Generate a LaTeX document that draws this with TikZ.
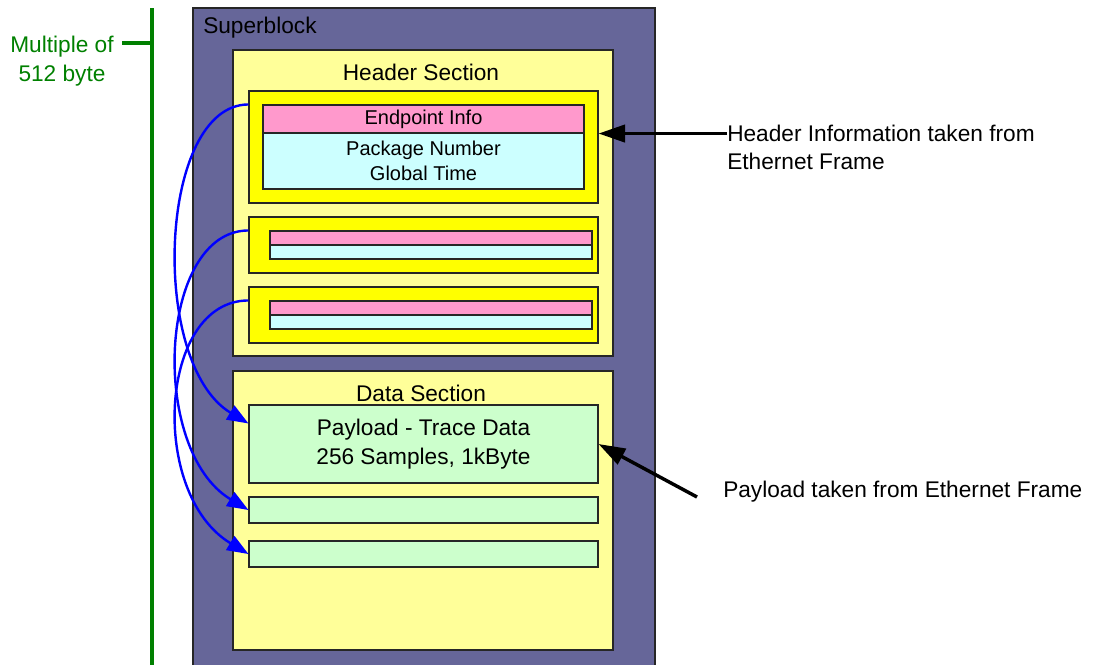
\documentclass[tikz,border=0pt]{standalone}
\usepackage{fontspec}
\setmainfont{Liberation Sans}
\usetikzlibrary{arrows.meta,calc,fit,positioning}

\definecolor{sbviolet}{RGB}{102,102,153}
\definecolor{secyellow}{RGB}{255,255,153}
\definecolor{hdryellow}{RGB}{255,255,0}
\definecolor{eppink}{RGB}{255,153,204}
\definecolor{pkcyan}{RGB}{204,255,255}
\definecolor{paygreen}{RGB}{204,255,204}
\definecolor{sizegreen}{RGB}{0,128,0}

\newcommand{\bigfont}{\fontsize{17}{21.5}\selectfont}
\newcommand{\smallfont}{\fontsize{15}{18.75}\selectfont}

\tikzset{
  box/.style={draw=black!85, line width=0.8pt, inner sep=0pt},
  superblock/.style={box, fill=sbviolet},
  section/.style={box, fill=secyellow},
  hdrbox/.style={box, fill=hdryellow},
  epbar/.style={box, fill=eppink},
  pkbar/.style={box, fill=pkcyan},
  paybox/.style={box, fill=paygreen},
  lbl/.style={inner sep=0pt, font=\bigfont},
  small/.style={inner sep=0pt, font=\smallfont, align=center},
  marker/.style={sizegreen, line width=3pt},
  link/.style={draw=blue, line width=1.8pt, -{Triangle[length=16pt,width=12pt]}},
  pointer/.style={line width=2.6pt, -{Triangle[length=20pt,width=13pt]}},
}

\begin{document}
\begin{tikzpicture}[x=0.75pt, y=-0.75pt]
  \useasboundingbox (0,0) rectangle (1099,664);
  \clip (0,0) rectangle (1099,664);

  % size marker on the left
  \draw[marker] (152,8) -- (152,680);
  \coordinate (tick) at (152,43);
  \coordinate (tickend) at (122,43);
  \draw[marker] (tickend) -- (tick);
  \node[lbl, text=sizegreen, align=center] (mult) at (62,61) {Multiple of\\512 byte};

  % superblock
  \node[superblock, fit={(193,8) (655,690)}] (sb) {};
  \node[lbl, anchor=west] (sblbl) at (203,28) {Superblock};

  % header section
  \node[section, fit={(233,50) (613,356)}] (hsec) {};
  \node[lbl] (hseclbl) at (421,72) {Header Section};
  \node[hdrbox, fit={(249,91) (598,203)}] (hdr1) {};
  \node[epbar, fit={(263,105) (584,133)}] (ep1) {};
  \node[pkbar, fit={(263,133) (584,189)}] (pk1) {};
  \node[small] (eptxt) at (ep1.center) {Endpoint Info};
  \node[small] (pktxt) at (pk1.center) {Package Number\\Global Time};
  \foreach \i/\y in {2/217,3/287} {
    \node[hdrbox, fit={(249,\y) (598,\y+56)}] (hdr\i) {};
    \node[epbar, fit={(270,\y+14) (592,\y+28)}] (ep\i) {};
    \node[pkbar, fit={(270,\y+28) (592,\y+42)}] (pk\i) {};
  }

  % data section
  \node[section, fit={(233,371) (613,650)}] (dsec) {};
  \node[lbl] (dseclbl) at (421,393) {Data Section};
  \node[paybox, fit={(249,405) (598,483)}] (pay1) {};
  \node[lbl, align=center] (paytxt) at (pay1.center) {Payload - Trace Data\\256 Samples, 1kByte};
  \foreach \i/\y in {2/497,3/541}
    \node[paybox, fit={(249,\y) (598,\y+26)}] (pay\i) {};

  % header -> payload links
  \draw[link] ($(hdr1.north west)+(0,14)$) .. controls +(-90,0) and +(-100,-60) .. ($(pay1.north west)+(0,19)$);
  \foreach \i in {2,3}
    \draw[link] ($(hdr\i.north west)+(0,14)$) .. controls +(-90,0) and +(-100,-60) .. (pay\i.west);

  % notes on the right
  \node[lbl, anchor=west, align=left] (hnote) at (727,147.5) {Header Information taken from\\Ethernet Frame};
  \draw[pointer] (hnote.west |- ep1.south) -- (hdr1.east |- ep1.south);
  \node[lbl, anchor=west] (pnote) at (723,492) {Payload taken from Ethernet Frame};
  \coordinate (psrc) at (697,497);
  \draw[pointer] (psrc) -- (pay1.east);
\end{tikzpicture}
\end{document}
